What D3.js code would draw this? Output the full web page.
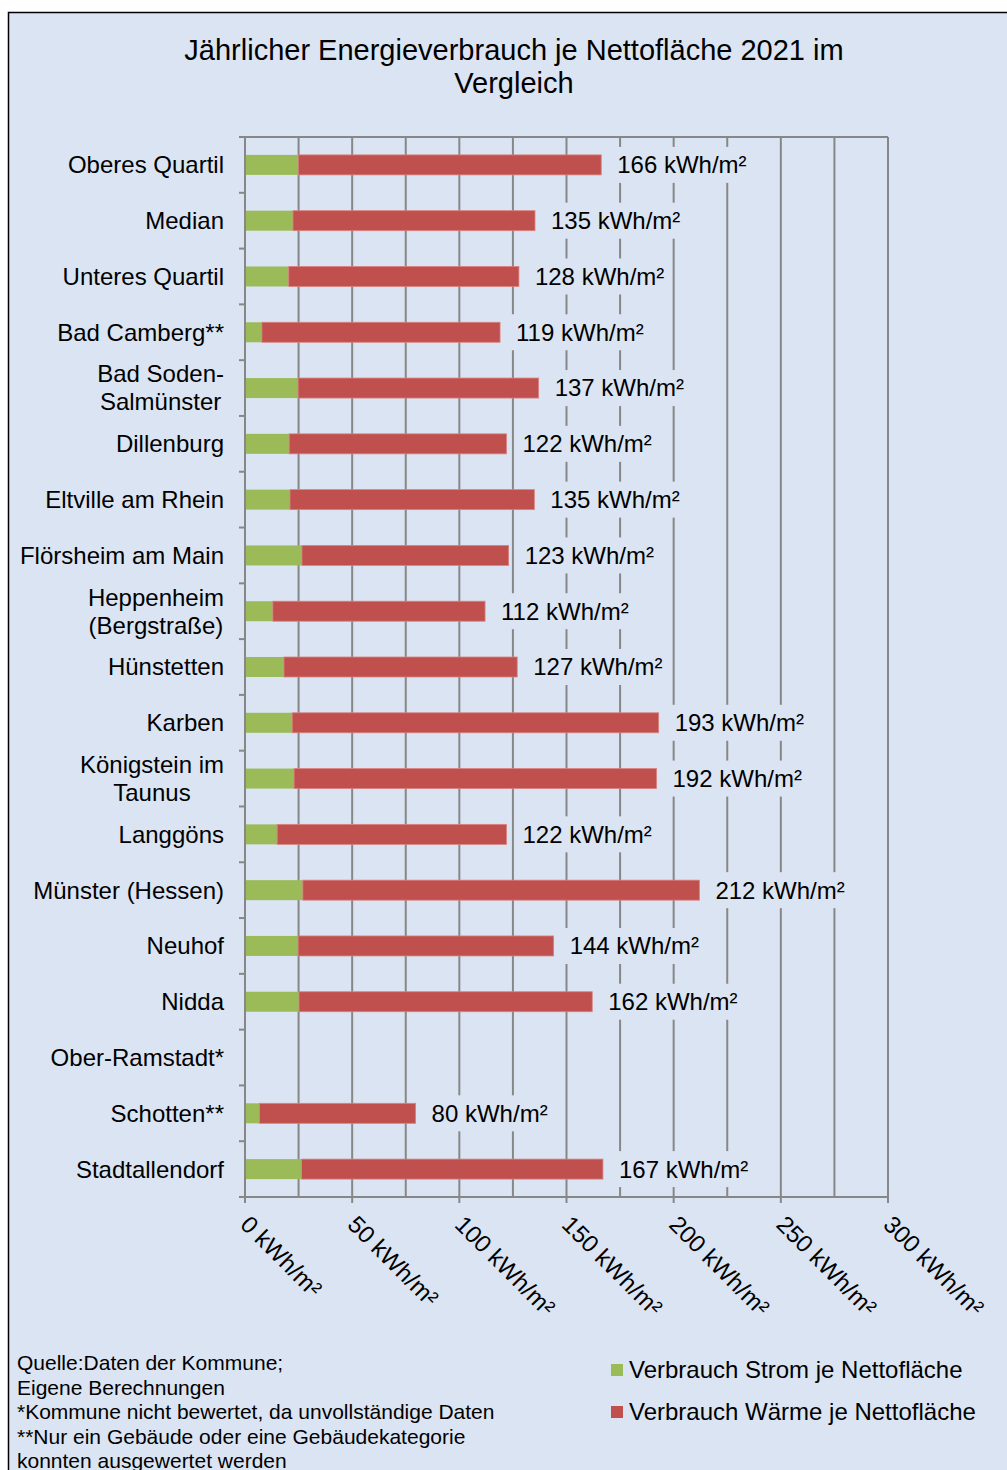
<!DOCTYPE html>
<html>
<head>
<meta charset="utf-8">
<script src="https://cdn.jsdelivr.net/npm/d3@7"></script>
<style>
  body { margin: 0; background: #fff; }
  svg { display: block; font-family: "Liberation Sans", Arial, sans-serif; }
</style>
</head>
<body>
<svg></svg>
<script>
const categories = [
  "Oberes Quartil", "Median", "Unteres Quartil", "Bad Camberg**",
  "Bad Soden-\nSalmünster", "Dillenburg", "Eltville am Rhein",
  "Flörsheim am Main", "Heppenheim\n(Bergstraße)", "Hünstetten", "Karben",
  "Königstein im\nTaunus", "Langgöns", "Münster (Hessen)", "Neuhof", "Nidda",
  "Ober-Ramstadt*", "Schotten**", "Stadtallendorf"
];
const strom = [24.9, 22.4, 20.4, 7.9, 24.8, 20.6, 21.0, 26.6, 13.0, 18.2, 22.0,
  22.9, 15.0, 27.0, 24.8, 25.2, null, 6.7, 26.4];
const waerme = [141.3, 112.9, 107.4, 111.1, 112.2, 101.4, 114.0, 96.4, 99.0,
  108.8, 171.0, 169.1, 107.0, 185.0, 119.2, 136.8, null, 72.9, 140.6];
const xTicks = [0, 50, 100, 150, 200, 250, 300];
const gridValues = d3.range(25, 301, 25);
const seriesNames = ["Verbrauch Strom je Nettofläche", "Verbrauch Wärme je Nettofläche"];
const titleLines = ["Jährlicher Energieverbrauch je Nettofläche 2021 im", "Vergleich"];
const notes = [
  "Quelle:Daten der Kommune;",
  "Eigene Berechnungen",
  "*Kommune nicht bewertet, da unvollständige Daten",
  "**Nur ein Gebäude oder eine Gebäudekategorie",
  "konnten ausgewertet werden"
];

const width = 1007, height = 1470;
const bg = "#dbe4f2";
const green = "#9bbb59", red = "#c0504d", gridColor = "#878787";

const svg = d3.select("svg").attr("width", width).attr("height", height);

svg.append("rect")
  .attr("x", 8.5).attr("y", 12.5)
  .attr("width", width + 20).attr("height", height + 20)
  .attr("fill", bg).attr("stroke", "#000").attr("stroke-width", 1.5);

const x = d3.scaleLinear().domain([0, 300]).range([245, 888]);
const y = d3.scaleBand().domain(categories).range([137, 1197]);
const barH = 20;

// title
svg.append("text")
  .attr("text-anchor", "middle")
  .attr("font-size", 29)
  .selectAll("tspan")
  .data(titleLines)
  .join("tspan")
  .attr("x", 514)
  .attr("y", (_, i) => 60 + i * 33)
  .text(d => d);

// grid
const plot = svg.append("g");
plot.selectAll("line.grid")
  .data(gridValues)
  .join("line")
  .attr("x1", d => x(d)).attr("x2", d => x(d))
  .attr("y1", 137).attr("y2", 1197)
  .attr("stroke", gridColor).attr("stroke-width", 2);

plot.append("line")
  .attr("x1", 239).attr("x2", x(300))
  .attr("y1", 137).attr("y2", 137)
  .attr("stroke", gridColor).attr("stroke-width", 2);

// bars
const rows = categories.map((c, i) => ({ c, s: strom[i], w: waerme[i] }))
  .filter(d => d.s != null);

plot.selectAll("rect.strom")
  .data(rows)
  .join("rect")
  .attr("x", x(0))
  .attr("y", d => y(d.c) + y.bandwidth() / 2 - barH / 2)
  .attr("width", d => x(d.s) - x(0))
  .attr("height", barH)
  .attr("fill", green);

plot.selectAll("rect.waerme")
  .data(rows)
  .join("rect")
  .attr("x", d => x(d.s))
  .attr("y", d => y(d.c) + y.bandwidth() / 2 - barH / 2)
  .attr("width", d => x(d.s + d.w) - x(d.s))
  .attr("height", barH)
  .attr("fill", red)
  .attr("stroke", "#d9827f").attr("stroke-width", 0.8);

// value labels with background boxes
const labels = plot.selectAll("g.lbl")
  .data(rows)
  .join("g")
  .attr("transform", d => `translate(${x(d.s + d.w) + 16},${y(d.c) + y.bandwidth() / 2})`);

labels.append("rect").attr("class", "box");
labels.append("text")
  .attr("font-size", 24)
  .attr("dy", "0.35em")
  .text(d => `${Math.round(d.s + d.w)} kWh/m²`);
labels.each(function() {
  const g = d3.select(this);
  const w = g.select("text").node().getComputedTextLength();
  g.select("rect")
    .attr("x", -7).attr("y", -18)
    .attr("width", w + 14).attr("height", 36)
    .attr("fill", bg);
});

// axes
plot.append("line")
  .attr("x1", x(0)).attr("x2", x(0))
  .attr("y1", 137).attr("y2", 1203)
  .attr("stroke", gridColor).attr("stroke-width", 2);
plot.selectAll("line.ytick")
  .data(d3.range(categories.length + 1))
  .join("line")
  .attr("x1", 239).attr("x2", x(0))
  .attr("y1", i => 137 + i * y.step()).attr("y2", i => 137 + i * y.step())
  .attr("stroke", gridColor).attr("stroke-width", 2);
plot.append("line")
  .attr("x1", 239).attr("x2", x(300) + 1)
  .attr("y1", 1197).attr("y2", 1197)
  .attr("stroke", gridColor).attr("stroke-width", 2);
plot.selectAll("line.xtick")
  .data(xTicks)
  .join("line")
  .attr("x1", d => x(d)).attr("x2", d => x(d))
  .attr("y1", 1197).attr("y2", 1203)
  .attr("stroke", gridColor).attr("stroke-width", 2);

plot.selectAll("text.xlab")
  .data(xTicks)
  .join("text")
  .attr("font-size", 24)
  .attr("transform", d => `translate(${x(d)},${1220}) rotate(45)`)
  .attr("dy", "0.35em")
  .text(d => `${d} kWh/m²`);

// category labels
const catG = svg.append("g").attr("font-size", 24);
categories.forEach(c => {
  const lines = c.split("\n");
  const cy = y(c) + y.bandwidth() / 2;
  const t = catG.append("text");
  if (lines.length === 1) {
    t.attr("x", 224).attr("y", cy).attr("dy", "0.35em")
      .attr("text-anchor", "end").text(c);
  } else {
    t.attr("text-anchor", "middle");
    const spans = t.selectAll("tspan").data(lines).join("tspan")
      .attr("y", (_, i) => cy + (i - 0.5) * 28)
      .attr("dy", "0.35em")
      .text(d => d);
    let maxW = 0;
    spans.each(function() { maxW = Math.max(maxW, this.getComputedTextLength()); });
    spans.attr("x", 224 - maxW / 2);
  }
});

// footnotes
svg.append("g").attr("font-size", 21)
  .selectAll("text")
  .data(notes)
  .join("text")
  .attr("x", 17)
  .attr("y", (_, i) => 1370 + i * 24.5)
  .text(d => d);

// legend
const leg = svg.append("g").selectAll("g")
  .data(seriesNames)
  .join("g")
  .attr("transform", (_, i) => `translate(611,${1364 + i * 42})`);
leg.append("rect").attr("width", 12).attr("height", 12)
  .attr("fill", (_, i) => [green, red][i]);
leg.append("text").attr("x", 18).attr("y", 6).attr("dy", "0.35em")
  .attr("font-size", 24).text(d => d);
</script>
</body>
</html>
